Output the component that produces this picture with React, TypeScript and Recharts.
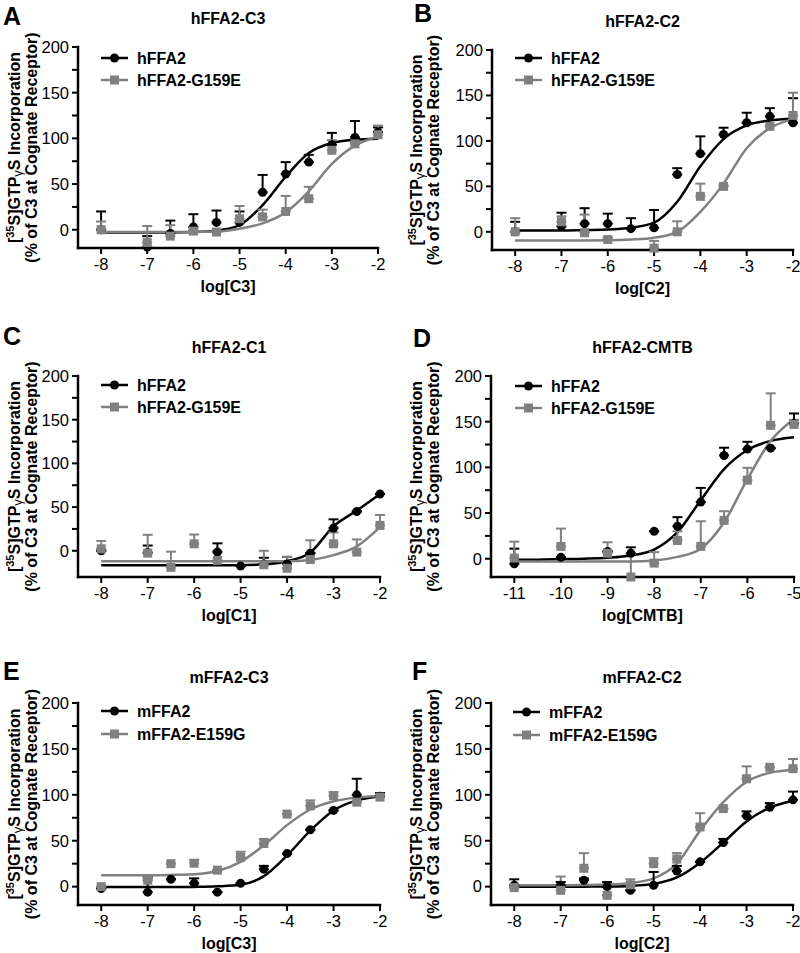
import { ComposedChart, ErrorBar, Line, Scatter, XAxis, YAxis } from "recharts";

// Six Prism-style concentration-response panels ([35S]GTPγS binding).
// Means carry only an upper SEM bar; fitted curves were read off the figure
// on a half-log grid and are drawn with a monotone spline.

const BLACK = "#000000";
const GRAY = "#808080";
const FONT = "'Liberation Sans', Arial, Helvetica, sans-serif";

// measured concentrations (log M)
const DOSES = [-8, -7, -6.5, -6, -5.5, -5, -4.5, -4, -3.5, -3, -2.5, -2];
const DOSES_CMTB = [-11, -10, -9, -8.5, -8, -7.5, -7, -6.5, -6, -5.5, -5];
// grid the fitted curves were read on
const FIT_DOSES = [-8, -7.5, -7, -6.5, -6, -5.5, -5, -4.5, -4, -3.5, -3, -2.5, -2];
const FIT_DOSES_CMTB = [-11, -10.5, -10, -9.5, -9, -8.5, -8, -7.5, -7, -6.5, -6, -5.5, -5];

const X_TICKS = [-8, -7, -6, -5, -4, -3, -2];
const X_TICKS_CMTB = [-11, -10, -9, -8, -7, -6, -5];
const Y_TICKS = [0, 25, 50, 75, 100, 125, 150, 175, 200];

// A: hFFA2-C3
const wtA = [0, -19, -4, 3, 8, 8, 41, 61, 74, 93, 101, 107];
const wtErrA = [20, 12, 14, 14, 13, 12, 19, 13, 8, 13, 18, 5];
const mutA = [0, -14, -7, -1.5, -2.5, 12, 14, 20, 34, 87, 94, 104];
const mutErrA = [9, 18, 12, 2, 2, 14, 8, 17, 13, 11, 2, 10];
const wtFitA = [-3, -3, -3, -3, -2.5, -1, 5, 27, 58, 84, 95, 98.5, 99.5];
const mutFitA = [-2.5, -2.5, -2.5, -2.5, -2.4, -2, 1, 7, 19, 42, 72, 92, 102];

// B: hFFA2-C2
const wtB = [0, 6, 9, 9, 3.5, 4.5, 63, 86, 107, 120, 127, 120];
const wtErrB = [11, 15, 17, 11, 11.5, 19.5, 7, 19, 7.5, 11, 9, 27];
const mutB = [0, 11, -1, -8.5, null, -18, 0, 39, 50, null, 116, 128];
const mutErrB = [15, 6, 20, 2, null, 8, 11.6, 14, 1, null, 1, 25];
const wtFitB = [1.5, 1.5, 1.5, 2, 2.5, 4.5, 10, 33, 72, 102, 117, 122.5, 124.5];
const mutFitB = [-9.5, -9.5, -9.5, -9.5, -9.3, -8.5, -6.5, 0, 22, 53, 92, 114, 124];

// C: hFFA2-C1
const wtC = [0, -2, null, null, -1.5, -17.5, -15, -15, -2.7, 26, 45, 65];
const wtErrC = [0, 8, null, null, 10, 0, 7, 8, 0, 10, 0, 0];
const mutC = [2.3, -2.7, -19, 8, -11, null, -16, -20, -10, 8, -1.5, 29];
const mutErrC = [9, 21, 18, 10.6, 11, null, 16, 13, 22, 13, 14.5, 12];
const wtFitC = [-16.5, -16.5, -16.5, -16.5, -16.5, -16.5, -16.5, -15.5, -12, -2, 28, 46, 65];
const mutFitC = [-12, -12, -12, -12, -12, -12, -12, -12, -12, -10.5, -5, 5, 27];

// D: hFFA2-CMTB
const wtD = [-5.5, 1.5, 8, 6, 30, 35.5, 62, 113, 120, 121, 148];
const wtErrD = [16.5, 0, 0, 6.5, 0, 10, 15.5, 8.5, 8, 0, 11];
const mutD = [0.7, 13.5, 6, -20, -4.8, 20, 13.5, 42, 86, 146, 147];
const mutErrD = [18, 19.5, 12, 25.5, 12, 10, 27.5, 10, 13.5, 35, 5];
const wtFitD = [-1, -1, -0.5, 0, 1, 3.5, 10, 29, 64, 98, 119, 129, 133];
const mutFitD = [-3, -3, -3, -3, -3, -3, -2, 2, 11, 40, 87, 129, 153];

// E: mFFA2-C3
const wtE = [-2, -6, 8, 3.6, -6, 3.6, 19, 36, 62, 83, 100, 98.5];
const wtErrE = [0, 16, 0, 5.4, 0, 0, 3.6, 0, 0, 0, 17.5, 3.5];
const mutE = [0, 7, 25, 25.5, 18, 32, 47, 79, 88, 99, 92, 97.5];
const mutErrE = [0, 0, 0, 3.5, 0, 6, 5, 0, 6, 4, 0, 0];
const wtFitE = [-0.5, -0.5, -0.5, -0.5, -0.3, 0.3, 2, 11.5, 34, 61, 83, 94, 98.5];
const mutFitE = [12.5, 12.5, 12.5, 12.8, 13.5, 17, 27, 45, 67, 84, 93, 97, 99];

// F: mFFA2-C2
const wtF = [1.5, 1.5, 7, 0, -4, 1.5, 17, 27, 48, 77, 86.5, 94.5];
const wtErrF = [6.5, 3.5, 2, 5, 0, 14.5, 5.6, 0, 4, 5, 4.5, 9];
const mutF = [-1, -4, 20, -9.5, 2, 25, 30, 65, 85, 117.5, 130, 128.5];
const mutErrF = [0, 15, 16.5, 0, 6, 6, 6.5, 15, 0, 13.5, 0, 10.5];
const wtFitF = [0, 0, 0, 0, 0.2, 0.8, 3, 10, 26, 48, 71, 86, 93.5];
const mutFitF = [1.5, 1.5, 1.5, 1.7, 2.2, 4, 9, 25, 61, 92, 114, 124, 127];

type Series = (number | null)[];

type Box = {
  x0: number; // left edge of the panel column
  left: number; // plot area, page px
  right: number;
  top: number;
  bottom: number;
  letterX: number;
  letterY: number;
  titleY: number;
  legendX: number;
  legendY: [number, number];
  yLabelX: [number, number];
};

type Panel = {
  letter: string;
  title: string;
  xLabel: string;
  legend: [string, string];
  doses: number[];
  wt: Series;
  wtErr: Series;
  mut: Series;
  mutErr: Series;
  fitDoses: number[];
  wtFit: number[];
  mutFit: number[];
  xDomain: [number, number];
  xTicks: number[];
  yDomain: [number, number];
  box: Box;
};

const HUMAN: [string, string] = ["hFFA2", "hFFA2-G159E"];
const MOUSE: [string, string] = ["mFFA2", "mFFA2-E159G"];

const PANELS: Panel[] = [
  {
    letter: "A", title: "hFFA2-C3", xLabel: "log[C3]", legend: HUMAN,
    doses: DOSES, wt: wtA, wtErr: wtErrA, mut: mutA, mutErr: mutErrA,
    fitDoses: FIT_DOSES, wtFit: wtFitA, mutFit: mutFitA,
    xDomain: [-8.5, -2], xTicks: X_TICKS, yDomain: [-20, 200],
    box: { x0: 0, left: 78, right: 378, top: 47, bottom: 248, letterX: 3, letterY: 25, titleY: 24, legendX: 101, legendY: [58, 80], yLabelX: [20, 37] },
  },
  {
    letter: "B", title: "hFFA2-C2", xLabel: "log[C2]", legend: HUMAN,
    doses: DOSES, wt: wtB, wtErr: wtErrB, mut: mutB, mutErr: mutErrB,
    fitDoses: FIT_DOSES, wtFit: wtFitB, mutFit: mutFitB,
    xDomain: [-8.5, -2], xTicks: X_TICKS, yDomain: [-20, 200],
    box: { x0: 400, left: 492, right: 793, top: 50, bottom: 250, letterX: 414, letterY: 22, titleY: 27, legendX: 515, legendY: [58, 80], yLabelX: [422, 439] },
  },
  {
    letter: "C", title: "hFFA2-C1", xLabel: "log[C1]", legend: HUMAN,
    doses: DOSES, wt: wtC, wtErr: wtErrC, mut: mutC, mutErr: mutErrC,
    fitDoses: FIT_DOSES, wtFit: wtFitC, mutFit: mutFitC,
    xDomain: [-8.5, -2], xTicks: X_TICKS, yDomain: [-30, 200],
    box: { x0: 0, left: 78, right: 380, top: 376, bottom: 577, letterX: 3, letterY: 345, titleY: 353, legendX: 101, legendY: [385, 407], yLabelX: [20, 37] },
  },
  {
    letter: "D", title: "hFFA2-CMTB", xLabel: "log[CMTB]", legend: HUMAN,
    doses: DOSES_CMTB, wt: wtD, wtErr: wtErrD, mut: mutD, mutErr: mutErrD,
    fitDoses: FIT_DOSES_CMTB, wtFit: wtFitD, mutFit: mutFitD,
    xDomain: [-11.5, -5], xTicks: X_TICKS_CMTB, yDomain: [-20, 200],
    box: { x0: 400, left: 491, right: 794, top: 376, bottom: 577, letterX: 413, letterY: 347, titleY: 353, legendX: 515, legendY: [386, 408], yLabelX: [422, 439] },
  },
  {
    letter: "E", title: "mFFA2-C3", xLabel: "log[C3]", legend: MOUSE,
    doses: DOSES, wt: wtE, wtErr: wtErrE, mut: mutE, mutErr: mutErrE,
    fitDoses: FIT_DOSES, wtFit: wtFitE, mutFit: mutFitE,
    xDomain: [-8.5, -2], xTicks: X_TICKS, yDomain: [-20, 200],
    box: { x0: 0, left: 78, right: 380, top: 703, bottom: 905, letterX: 3, letterY: 680, titleY: 683, legendX: 101, legendY: [711, 734], yLabelX: [20, 37] },
  },
  {
    letter: "F", title: "mFFA2-C2", xLabel: "log[C2]", legend: MOUSE,
    doses: DOSES, wt: wtF, wtErr: wtErrF, mut: mutF, mutErr: mutErrF,
    fitDoses: FIT_DOSES, wtFit: wtFitF, mutFit: mutFitF,
    xDomain: [-8.5, -2], xTicks: X_TICKS, yDomain: [-20, 200],
    box: { x0: 400, left: 491, right: 793, top: 703, bottom: 905, letterX: 412, letterY: 680, titleY: 683, legendX: 513, legendY: [712, 735], yLabelX: [422, 439] },
  },
];

const Y_AXIS_W = 40;
const X_AXIS_H = 30;
const MARKER = 9;

/** Means + upper-only SEM ([low, high] error for Recharts). */
function toPoints(doses: number[], values: Series, errors: Series) {
  return doses.flatMap((x, i) => {
    const y = values[i];
    if (y === null || y === undefined) return [];
    return [{ x, y, e: [0, errors[i] ?? 0] }];
  });
}

function CircleMark(props: { cx?: number; cy?: number }) {
  if (props.cx == null || props.cy == null) return <g />;
  return <circle cx={props.cx} cy={props.cy} r={MARKER / 2} fill={BLACK} />;
}

function SquareMark(props: { cx?: number; cy?: number }) {
  if (props.cx == null || props.cy == null) return <g />;
  return (
    <rect x={props.cx - MARKER / 2} y={props.cy - MARKER / 2} width={MARKER} height={MARKER} fill={GRAY} />
  );
}

const tickStyle = { fill: BLACK, fontSize: 16.5, fontFamily: FONT };
const axisLineStyle = { stroke: BLACK, strokeWidth: 2.5, strokeLinecap: "square" as const };
const tickLineStyle = { stroke: BLACK, strokeWidth: 2 };

function PanelChart({ panel }: { panel: Panel }) {
  const { x0, left, right, top, bottom } = panel.box;
  const chartTop = top - 20;
  const chartHeight = bottom - top + 20 + X_AXIS_H + 14;
  const rows = panel.fitDoses.map((x, i) => ({ x, wt: panel.wtFit[i], mut: panel.mutFit[i] }));
  const wtPoints = toPoints(panel.doses, panel.wt, panel.wtErr);
  const mutPoints = toPoints(panel.doses, panel.mut, panel.mutErr);

  return (
    <div style={{ position: "absolute", left: x0, top: chartTop }}>
      <ComposedChart
        width={400}
        height={chartHeight}
        data={rows}
        margin={{ top: 20, right: x0 + 400 - right, bottom: 14, left: left - x0 - Y_AXIS_W }}
      >
        <XAxis
          dataKey="x"
          type="number"
          domain={panel.xDomain}
          ticks={panel.xTicks}
          interval={0}
          height={X_AXIS_H}
          axisLine={axisLineStyle}
          tickLine={tickLineStyle}
          tickSize={6}
          tickMargin={4}
          tick={tickStyle}
        />
        <YAxis
          type="number"
          domain={panel.yDomain}
          ticks={Y_TICKS}
          interval={0}
          width={Y_AXIS_W}
          tickFormatter={(v: number) => (v % 50 === 0 ? String(v) : "")}
          axisLine={axisLineStyle}
          tickLine={tickLineStyle}
          tickSize={6}
          tickMargin={3}
          tick={tickStyle}
        />
        <Line
          dataKey="wt"
          type="monotone"
          stroke={BLACK}
          strokeWidth={2.5}
          dot={false}
          activeDot={false}
          isAnimationActive={false}
        />
        <Line
          dataKey="mut"
          type="monotone"
          stroke={GRAY}
          strokeWidth={2.5}
          dot={false}
          activeDot={false}
          isAnimationActive={false}
        />
        <Scatter data={wtPoints} dataKey="y" shape={CircleMark} isAnimationActive={false}>
          <ErrorBar dataKey="e" direction="y" width={5} stroke={BLACK} strokeWidth={2} />
        </Scatter>
        <Scatter data={mutPoints} dataKey="y" shape={SquareMark} isAnimationActive={false}>
          <ErrorBar dataKey="e" direction="y" width={5} stroke={GRAY} strokeWidth={2} />
        </Scatter>
      </ComposedChart>
    </div>
  );
}

function LegendRow({ x, y, label, square }: { x: number; y: number; label: string; square: boolean }) {
  const color = square ? GRAY : BLACK;
  const mid = x + 13.5;
  return (
    <g>
      <line x1={x} x2={x + 27} y1={y} y2={y} stroke={color} strokeWidth={2.5} />
      {square ? (
        <rect x={mid - MARKER / 2} y={y - MARKER / 2} width={MARKER} height={MARKER} fill={color} />
      ) : (
        <circle cx={mid} cy={y} r={MARKER / 2} fill={color} />
      )}
      <text x={x + 36} y={y + 6} fontSize={16} fontWeight="bold" fill={BLACK}>
        {label}
      </text>
    </g>
  );
}

function PanelText({ panel }: { panel: Panel }) {
  const b = panel.box;
  const cx = (b.left + b.right) / 2;
  const cy = (b.top + b.bottom) / 2;
  return (
    <g fontFamily={FONT} fill={BLACK}>
      <text x={b.letterX} y={b.letterY} fontSize={25} fontWeight="bold">
        {panel.letter}
      </text>
      <text x={cx} y={b.titleY} fontSize={16} fontWeight="bold" textAnchor="middle">
        {panel.title}
      </text>
      <text x={cx} y={b.bottom + 44} fontSize={16} fontWeight="bold" textAnchor="middle">
        {panel.xLabel}
      </text>
      <text
        transform={`translate(${b.yLabelX[0]},${cy}) rotate(-90)`}
        fontSize={16}
        fontWeight="bold"
        textAnchor="middle"
      >
        [<tspan dy={-6} fontSize={11}>35</tspan>
        <tspan dy={6}>S]GTP</tspan>
        <tspan fontWeight="normal" fontSize={13} dy={2}>γ</tspan>
        <tspan dy={-2}>S Incorporation</tspan>
      </text>
      <text
        transform={`translate(${b.yLabelX[1]},${cy}) rotate(-90)`}
        fontSize={16}
        fontWeight="bold"
        textAnchor="middle"
      >
        (% of C3 at Cognate Receptor)
      </text>
      <LegendRow x={b.legendX} y={b.legendY[0]} label={panel.legend[0]} square={false} />
      <LegendRow x={b.legendX} y={b.legendY[1]} label={panel.legend[1]} square />
    </g>
  );
}

export default function App() {
  return (
    <div
      style={{
        position: "absolute",
        left: 0,
        top: 0,
        width: 800,
        height: 953,
        background: "#ffffff",
        fontFamily: FONT,
      }}
    >
      {PANELS.map((panel) => (
        <PanelChart key={panel.letter} panel={panel} />
      ))}
      <svg
        width={800}
        height={953}
        style={{ position: "absolute", left: 0, top: 0, pointerEvents: "none" }}
      >
        {PANELS.map((panel) => (
          <PanelText key={panel.letter} panel={panel} />
        ))}
      </svg>
    </div>
  );
}
